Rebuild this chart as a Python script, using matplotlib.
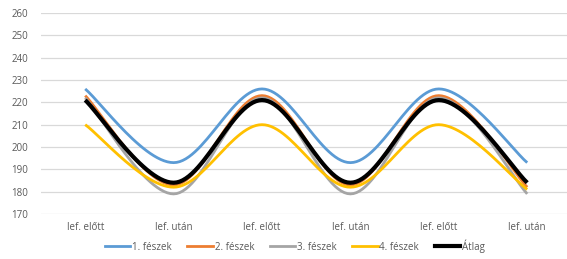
import numpy as np
import matplotlib
matplotlib.use("Agg")
import matplotlib.pyplot as plt
from matplotlib.lines import Line2D

categories = ["lef. előtt", "lef. után", "lef. előtt", "lef. után", "lef. előtt", "lef. után"]
series_names = ["1. fészek", "2. fészek", "3. fészek", "4. fészek", "Átlag"]
s1 = [226, 193, 226, 193, 226, 193]
s2 = [223, 183, 223, 183, 223, 182]
s3 = [222, 179, 222, 179, 222, 179]
s4 = [210, 182, 210, 182, 210, 181]
avg = [221, 184, 221, 184, 221, 184]
yticks = [170, 180, 190, 200, 210, 220, 230, 240, 250, 260]

colors = ["#5B9BD5", "#ED7D31", "#A5A5A5", "#FFC000", "#000000"]
widths = [2.0, 2.0, 2.0, 2.0, 3.0]


def smooth(x, y, n=30):
    x = np.asarray(x, float); y = np.asarray(y, float)
    px = np.concatenate([[x[0]], x, [x[-1]]])
    py = np.concatenate([[y[0]], y, [y[-1]]])
    xs, ys = [], []
    for i in range(1, len(px) - 2):
        p0, p1, p2, p3 = [(px[j], py[j]) for j in (i - 1, i, i + 1, i + 2)]
        t = 1.0 / 6.0
        c1 = (p1[0] + (p2[0] - p0[0]) * t, p1[1] + (p2[1] - p0[1]) * t)
        c2 = (p2[0] - (p3[0] - p1[0]) * t, p2[1] - (p3[1] - p1[1]) * t)
        u = np.linspace(0, 1, n)
        bx = (1-u)**3*p1[0] + 3*(1-u)**2*u*c1[0] + 3*(1-u)*u**2*c2[0] + u**3*p2[0]
        by = (1-u)**3*p1[1] + 3*(1-u)**2*u*c1[1] + 3*(1-u)*u**2*c2[1] + u**3*p2[1]
        xs.append(bx); ys.append(by)
    return np.concatenate(xs), np.concatenate(ys)


W, H = 567, 259
fig = plt.figure(figsize=(W / 100, H / 100), dpi=100)
plt.rcParams['font.family'] = ['Open Sans', 'DejaVu Sans']
ax = fig.add_axes([41 / W, 1 - 214 / H, (W - 41) / W, 201 / H])

x = np.arange(len(categories))
for name, data, c, lw in zip(series_names, [s1, s2, s3, s4, avg], colors, widths):
    sx, sy = smooth(x, data)
    ax.plot(sx, sy, color=c, lw=lw, solid_capstyle='butt', label=name)

ax.set_ylim(170, 260)
ax.set_yticks(yticks)
ax.set_xlim(-0.5, -0.5 + (W - 41) / 88.4)
ax.set_xticks(x)
ax.set_xticklabels(categories)
ax.grid(axis='y', color='#D9D9D9', lw=0.9)
ax.set_axisbelow(True)
for sp in ax.spines.values():
    sp.set_visible(False)
ax.tick_params(length=0, labelsize=7, colors='#595959', pad=6)
ax.tick_params(axis='y', pad=9)

handles = [Line2D([0], [0], color=c, lw=lw) for c, lw in zip(colors, widths)]
fig.legend(handles, series_names, loc='center', bbox_to_anchor=(0.52, 0.05), ncol=5,
           frameon=False, fontsize=7, labelcolor='#595959', handlelength=2.6,
           handletextpad=0.2, columnspacing=1.6)

fig.savefig("out.png", dpi=100)
